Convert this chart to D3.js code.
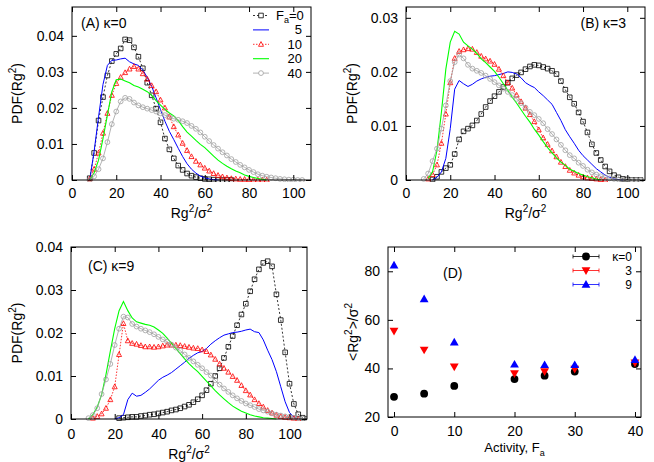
<!DOCTYPE html>
<html>
<head>
<meta charset="utf-8">
<script src="https://cdn.jsdelivr.net/npm/d3@7"></script>
<style>
  body { margin: 0; background: #fff; }
  svg { display: block; font-family: "Liberation Sans", Arial, Helvetica, sans-serif; }
</style>
</head>
<body>
<script>
// ---------------- DATA ----------------
// Common Rg^2/sigma^2 sample grid for the PDF panels
const rgGrid = [8,10,12,14,16,18,20,22,24,26,28,30,32,34,36,38,40,42,44,46,48,50,52,54,56,58,
  60,62,64,66,68,70,72,74,76,78,80,82,84,86,88,90,92,94,96,98,100,102,104,106,108];

const faLabels = ["0", "5", "10", "20", "40"];

// Panel A, kappa = 0
const pdfA_Fa0 = [0.0005,0.0075,0.0165,0.023,0.029,0.033,0.035,0.0365,0.039,0.0388,0.0368,0.0342,0.031,0.027,0.0235,0.0198,0.016,0.0115,0.0085,0.006,0.004,0.0028,0.0018,0.0012,0.0008,0.0005,0.0003,0.0002,0.0001,0,0,0,0];
const pdfA_Fa5 = [0,0.008,0.0175,0.0265,0.0318,0.0332,0.0333,0.0336,0.0338,0.0328,0.0322,0.0318,0.0305,0.0285,0.026,0.0228,0.0195,0.0163,0.0135,0.0112,0.0088,0.0065,0.0045,0.003,0.0019,0.0011,0.0006,0.0003,0.0001,0];
const pdfA_Fa10 = [0.0003,0.003,0.0075,0.013,0.0185,0.0235,0.0268,0.0285,0.0298,0.0308,0.0315,0.0308,0.0295,0.028,0.0262,0.0245,0.0222,0.02,0.0175,0.0148,0.0125,0.0102,0.0082,0.0065,0.0052,0.0042,0.0033,0.0025,0.0018,0.0013,0.0009,0.0006,0.0004,0.0003,0.0002,0.0002,0.0001,0,0,0,0];
const pdfA_Fa20 = [0,0.002,0.0055,0.0115,0.018,0.0245,0.0278,0.028,0.0275,0.027,0.0262,0.0258,0.0252,0.0245,0.0235,0.022,0.0208,0.0196,0.0186,0.0178,0.0165,0.0148,0.0133,0.0122,0.011,0.0099,0.009,0.0078,0.0066,0.0055,0.0046,0.0038,0.0031,0.0025,0.002,0.0014,0.001,0.0007,0.0004,0.0002,0];
const pdfA_Fa40 = [0,0.001,0.003,0.006,0.0105,0.0155,0.019,0.0218,0.0228,0.0225,0.0215,0.0207,0.0202,0.0198,0.0194,0.019,0.0185,0.018,0.0175,0.017,0.0167,0.0163,0.0158,0.015,0.0142,0.0132,0.012,0.0108,0.0097,0.0087,0.0077,0.0068,0.0058,0.005,0.0042,0.0035,0.0028,0.0022,0.0016,0.0012,0.0009,0.0007,0.0005,0.0003,0.0002,0.0001,0.0001,0,0];

// Panel B, kappa = 3
const pdfB_Fa0 = [null,null,0.0001,0.0006,0.0015,0.0022,0.0028,0.0048,0.0075,0.009,0.0095,0.0101,0.011,0.0122,0.0135,0.0146,0.0155,0.0163,0.0172,0.018,0.0188,0.0194,0.0199,0.0205,0.021,0.0213,0.0212,0.0209,0.0206,0.0202,0.0196,0.0183,0.0167,0.0153,0.0141,0.0125,0.0108,0.0088,0.0066,0.005,0.0037,0.0025,0.0016,0.0009,0.0005,0.0002,0.0001,0,0,0];
const pdfB_Fa5 = [null,null,0,0.0005,0.0015,0.004,0.0095,0.0168,0.0184,0.0178,0.0173,0.0177,0.0183,0.0187,0.019,0.0192,0.0193,0.0195,0.0197,0.02,0.0199,0.0196,0.0189,0.018,0.0175,0.0171,0.0163,0.0156,0.0148,0.014,0.0125,0.011,0.0093,0.008,0.0068,0.0055,0.0045,0.0037,0.0029,0.0021,0.0015,0.0009,0.0005,0.0002,0.0001,0];
const pdfB_Fa10 = [null,0.0002,0.001,0.0028,0.0068,0.0122,0.018,0.0225,0.0238,0.0241,0.0243,0.0242,0.0236,0.0229,0.0224,0.022,0.0214,0.0205,0.0193,0.018,0.017,0.0157,0.0145,0.0133,0.0121,0.0108,0.0093,0.0078,0.0066,0.0054,0.0043,0.0033,0.0025,0.0018,0.0013,0.0009,0.0006,0.0004,0.0003,0.0002,0.0001,0];
const pdfB_Fa20 = [null,0.0003,0.0015,0.0055,0.0125,0.0205,0.0255,0.0275,0.027,0.0255,0.0248,0.0242,0.0234,0.0224,0.0217,0.0209,0.0201,0.019,0.0178,0.0166,0.0153,0.0142,0.013,0.0118,0.0107,0.0094,0.0083,0.0071,0.006,0.005,0.0041,0.0033,0.0027,0.002,0.0016,0.0012,0.0009,0.0006,0.0004,0.0002,0];
const pdfB_Fa40 = [0.0002,0.0012,0.0035,0.0058,0.0095,0.0138,0.0183,0.0218,0.0232,0.0225,0.0213,0.0206,0.0202,0.0198,0.0193,0.0187,0.0181,0.0175,0.0169,0.0163,0.0157,0.015,0.0142,0.0134,0.0126,0.012,0.0113,0.0105,0.0094,0.0085,0.0075,0.0065,0.0055,0.0046,0.004,0.0032,0.0026,0.0019,0.0014,0.001,0.0007,0.0005,0.0003,0.0002,0.0001,0,0,0,0,0];

// Panel C, kappa = 9
const pdfC_Fa0 = [null,null,null,null,null,null,null,0.0002,0.0003,0.0004,0.0005,0.0005,0.0007,0.0008,0.001,0.0011,0.0013,0.0015,0.0017,0.002,0.0022,0.0025,0.0029,0.0033,0.0039,0.0046,0.0055,0.0067,0.0082,0.01,0.0118,0.0142,0.0168,0.0193,0.0218,0.0243,0.0268,0.0297,0.0325,0.0348,0.0363,0.0367,0.0355,0.029,0.023,0.0155,0.0082,0.0035,0.0011,0.0003,0];
const pdfC_Fa5 = [null,null,null,null,null,null,0,0.0003,0.001,0.0045,0.006,0.0053,0.0055,0.0062,0.007,0.008,0.009,0.0097,0.0102,0.0108,0.0116,0.0124,0.0132,0.0141,0.0148,0.0154,0.0157,0.0164,0.0174,0.0182,0.0189,0.0195,0.0198,0.0201,0.0202,0.0204,0.0207,0.0209,0.0203,0.0201,0.0184,0.016,0.0138,0.011,0.0075,0.004,0.0015,0.0004,0];
const pdfC_Fa10 = [null,0.0002,0.0006,0.0012,0.0025,0.0045,0.0075,0.015,0.0222,0.0182,0.0176,0.0174,0.0171,0.0168,0.0168,0.0167,0.0168,0.017,0.0172,0.0172,0.0172,0.0171,0.0169,0.0167,0.0165,0.0164,0.0161,0.0157,0.0149,0.0139,0.0128,0.0118,0.0109,0.0099,0.009,0.0078,0.0066,0.0056,0.0045,0.0036,0.0028,0.002,0.0014,0.0009,0.0006,0.0004,0.0003,0.0002,0];
const pdfC_Fa20 = [0,0.001,0.0028,0.0056,0.0103,0.0158,0.021,0.0252,0.0273,0.0252,0.0235,0.0226,0.0223,0.022,0.0218,0.0214,0.0207,0.0199,0.0188,0.0176,0.0164,0.0152,0.014,0.0129,0.0119,0.011,0.0099,0.0088,0.0077,0.0066,0.0056,0.0047,0.0038,0.003,0.0024,0.0018,0.0014,0.001,0.0007,0.0005,0.0003,0.0002,0.0001,0];
const pdfC_Fa40 = [0.0002,0.0009,0.0025,0.0058,0.0092,0.0128,0.0172,0.021,0.0238,0.0236,0.0221,0.0215,0.021,0.0206,0.0202,0.0197,0.0191,0.0185,0.018,0.0173,0.0166,0.0159,0.015,0.0142,0.0134,0.0126,0.0118,0.0109,0.0101,0.009,0.008,0.0071,0.0063,0.0055,0.0048,0.0042,0.0036,0.0032,0.0028,0.0023,0.002,0.0017,0.0013,0.001,0.0008,0.0006,0.0005,0.0003,0.0002,0.0001,0];

// Panel D: mean Rg^2 vs activity
const activity = [0, 5, 10, 20, 25, 30, 40];
const meanK0 = [28.3, 29.6, 32.8, 35.6, 37.0, 38.7, 41.8];
const meanK3 = [55.4, 47.6, 40.7, 37.9, 38.7, 39.7, 42.3];
const meanK9 = [82.5, 68.6, 50.8, 41.7, 41.5, 41.5, 43.6];
const kappaLabels = ["κ=0", "3", "9"];

// tick values
const xTicksPdf = [0, 20, 40, 60, 80, 100];
const yTicksA = [0, 0.01, 0.02, 0.03, 0.04];
const yTicksB = [0, 0.01, 0.02, 0.03];
const yTicksC = [0, 0.01, 0.02, 0.03, 0.04];
const xTicksD = [0, 10, 20, 30, 40];
const yTicksD = [20, 40, 60, 80];

// ---------------- DRAWING ----------------
const W = 654, H = 462;
const svg = d3.select("body").append("svg").attr("width", W).attr("height", H);
svg.append("rect").attr("width", W).attr("height", H).attr("fill", "#fff");

const FS = 14;      // tick / axis label size
const FSL = 12;     // legend text size
const FSS = 10;     // super/subscript size

const styles = [
  { color: "#000000", marker: "square", line: "2,2", lw: 0.8 },
  { color: "#0000ff", marker: null, line: null, lw: 1.0 },
  { color: "#ff0000", marker: "triangle", line: "1.5,1.5", lw: 0.8 },
  { color: "#00ff00", marker: null, line: null, lw: 1.1 },
  { color: "#a0a0a0", marker: "circle", line: null, lw: 0.8 }
];

function markerPath(type, cx, cy) {
  if (type === "square") {
    const s = 2.3;
    return `M${cx - s},${cy - s}h${2 * s}v${2 * s}h${-2 * s}Z`;
  }
  if (type === "triangle") {
    const s = 2.5;
    return `M${cx},${cy - s * 1.1}L${cx + s},${cy + s * 0.8}L${cx - s},${cy + s * 0.8}Z`;
  }
  return null;
}

function setupAxes(g, p, x, y, xticks, yticks, xfmt, yfmt) {
  const tl = 5;
  const bottom = g.append("g").attr("transform", `translate(0,${p.bottom})`)
    .call(d3.axisBottom(x).tickValues(xticks).tickSize(-tl).tickPadding(p.padX).tickFormat(xfmt));
  const top = g.append("g").attr("transform", `translate(0,${p.top})`)
    .call(d3.axisTop(x).tickValues(xticks).tickSize(-tl).tickFormat(""));
  const left = g.append("g").attr("transform", `translate(${p.left},0)`)
    .call(d3.axisLeft(y).tickValues(yticks).tickSize(-tl).tickPadding(8).tickFormat(yfmt));
  const right = g.append("g").attr("transform", `translate(${p.right},0)`)
    .call(d3.axisRight(y).tickValues(yticks).tickSize(-tl).tickFormat(""));
  [bottom, top, left, right].forEach(a => {
    a.select(".domain").remove();
    a.attr("font-family", null).attr("font-size", null);
    a.selectAll("text").attr("font-size", FS).attr("fill", "#000");
    a.selectAll("line").attr("stroke", "#000").attr("stroke-width", 1);
  });
  top.selectAll("text").remove();
  right.selectAll("text").remove();
  g.append("rect").attr("x", p.left).attr("y", p.top)
    .attr("width", p.right - p.left).attr("height", p.bottom - p.top)
    .attr("fill", "none").attr("stroke", "#000").attr("stroke-width", 1);
}

function supText(g, parts, attrs, size) {
  // parts: array of [text, 'n'|'sup'|'sub']
  const fs = size || FS;
  const t = g.append("text").attr("font-size", fs).attr("fill", "#000");
  Object.entries(attrs).forEach(([k, v]) => t.attr(k, v));
  let shift = 0;
  parts.forEach(([s, kind]) => {
    const target = kind === "sup" ? -6 : kind === "sub" ? 3.5 : 0;
    const ts = t.append("tspan").text(s).attr("dy", target - shift);
    if (kind !== "n") ts.attr("font-size", fs === FS ? FSS : 9);
    shift = target;
  });
  return t;
}

const rgLabel = [["Rg", "n"], ["2", "sup"], ["/σ", "n"], ["2", "sup"]];
const pdfLabel = [["PDF(Rg", "n"], ["2", "sup"], [")", "n"]];

const pdfPanels = [
  { left: 72, right: 311, top: 7, bottom: 180, ymax: 0.048, yticks: yTicksA, padX: 8,
    series: [pdfA_Fa0, pdfA_Fa5, pdfA_Fa10, pdfA_Fa20, pdfA_Fa40],
    tag: "(A) κ=0", tagX: 81, tagY: 28, tagAnchor: "start",
    ylabX: 22, xlabY: 218, legend: true },
  { left: 406, right: 645, top: 7, bottom: 180, ymax: 0.032, yticks: yTicksB, padX: 8,
    series: [pdfB_Fa0, pdfB_Fa5, pdfB_Fa10, pdfB_Fa20, pdfB_Fa40],
    tag: "(B) κ=3", tagX: 626, tagY: 28, tagAnchor: "end",
    ylabX: 357, xlabY: 218, legend: false },
  { left: 71, right: 307, top: 247, bottom: 419, ymax: 0.04, yticks: yTicksC, padX: 10,
    series: [pdfC_Fa0, pdfC_Fa5, pdfC_Fa10, pdfC_Fa20, pdfC_Fa40],
    tag: "(C) κ=9", tagX: 88, tagY: 271, tagAnchor: "start",
    ylabX: 22, xlabY: 459, legend: false }
];

const yfmtPdf = d => d === 0 ? "0" : d3.format(".2f")(d);

pdfPanels.forEach(p => {
  const g = svg.append("g");
  const x = d3.scaleLinear().domain([0, 108]).range([p.left, p.right]);
  const y = d3.scaleLinear().domain([0, p.ymax]).range([p.bottom, p.top]);

  const clipId = "clip" + p.left + "_" + p.top;
  svg.append("clipPath").attr("id", clipId).append("rect")
    .attr("x", p.left).attr("y", p.top - 2).attr("width", p.right - p.left).attr("height", p.bottom - p.top + 4);
  const plot = g.append("g").attr("clip-path", `url(#${clipId})`);

  p.series.forEach((vals, si) => {
    const st = styles[si];
    const pts = [];
    vals.forEach((v, i) => { if (v !== null && v !== undefined) pts.push([rgGrid[i], v]); });
    const line = d3.line().x(d => x(d[0])).y(d => y(d[1]));
    plot.append("path").attr("d", line(pts)).attr("fill", "none")
      .attr("stroke", st.color).attr("stroke-width", st.lw)
      .attr("stroke-dasharray", st.line);
    if (st.marker === "circle") {
      plot.selectAll(null).data(pts).enter().append("circle")
        .attr("cx", d => x(d[0])).attr("cy", d => y(d[1])).attr("r", 2.4)
        .attr("fill", "none").attr("stroke", st.color).attr("stroke-width", 0.8);
    } else if (st.marker) {
      plot.selectAll(null).data(pts).enter().append("path")
        .attr("d", d => markerPath(st.marker, x(d[0]), y(d[1])))
        .attr("fill", "none").attr("stroke", st.color).attr("stroke-width", 0.8);
    }
  });

  setupAxes(g, p, x, y, xTicksPdf, p.yticks, d3.format("d"), yfmtPdf);

  supText(g, rgLabel, { x: (p.left + p.right) / 2, y: p.xlabY, "text-anchor": "middle" });
  supText(g, pdfLabel, { transform: `translate(${p.ylabX},${(p.top + p.bottom) / 2}) rotate(-90)`, "text-anchor": "middle" });

  g.append("text").attr("x", p.tagX).attr("y", p.tagY).attr("text-anchor", p.tagAnchor)
    .attr("font-size", FS).text(p.tag);

  if (p.legend) {
    const lx0 = 253, lx1 = 269, tx = 302;
    faLabels.forEach((lab, i) => {
      const st = styles[i];
      const ly = 15.5 + i * 14.4;
      g.append("line").attr("x1", lx0).attr("x2", lx1).attr("y1", ly).attr("y2", ly)
        .attr("stroke", st.color).attr("stroke-width", st.lw).attr("stroke-dasharray", st.line);
      const mx = (lx0 + lx1) / 2;
      if (st.marker === "circle") {
        g.append("circle").attr("cx", mx).attr("cy", ly).attr("r", 2.4)
          .attr("fill", "#fff").attr("stroke", st.color).attr("stroke-width", 0.8);
      } else if (st.marker) {
        g.append("path").attr("d", markerPath(st.marker, mx, ly))
          .attr("fill", "#fff").attr("stroke", st.color).attr("stroke-width", 0.8);
      }
      if (i === 0) {
        supText(g, [["F", "n"], ["a", "sub"], ["=0", "n"]], { x: 276, y: ly + 4, "text-anchor": "start" }, 13);
      } else {
        g.append("text").attr("x", tx).attr("y", ly + 4.5).attr("text-anchor", "end")
          .attr("font-size", 13).text(lab);
      }
    });
  }
});

// ---------------- Panel D ----------------
{
  const p = { left: 388, right: 641, top: 247, bottom: 417, padX: 9 };
  const g = svg.append("g");
  const x = d3.scaleLinear().domain([-1, 41]).range([p.left, p.right]);
  const y = d3.scaleLinear().domain([20, 90]).range([p.bottom, p.top]);

  setupAxes(g, p, x, y, xTicksD, yTicksD, d3.format("d"), d3.format("d"));

  const seriesD = [
    { vals: meanK0, color: "#000000", shape: "circle" },
    { vals: meanK3, color: "#ff0000", shape: "down" },
    { vals: meanK9, color: "#0000ff", shape: "up" }
  ];
  function shapePath(shape, cx, cy) {
    const s = 4.4;
    if (shape === "up") return `M${cx},${cy - s}L${cx + s},${cy + s * 0.75}L${cx - s},${cy + s * 0.75}Z`;
    return `M${cx},${cy + s}L${cx + s},${cy - s * 0.75}L${cx - s},${cy - s * 0.75}Z`;
  }
  function drawShape(sel, shape, color, cx, cy) {
    if (shape === "circle") {
      sel.append("circle").attr("cx", cx).attr("cy", cy).attr("r", 3.9).attr("fill", color);
    } else {
      sel.append("path").attr("d", shapePath(shape, cx, cy)).attr("fill", color);
    }
  }
  seriesD.forEach(s => {
    s.vals.forEach((v, i) => drawShape(g, s.shape, s.color, x(activity[i]), y(v)));
  });

  // legend
  const lx0 = 573, lx1 = 599, tx = 632;
  seriesD.forEach((s, i) => {
    const ly = 256.5 + i * 14;
    g.append("line").attr("x1", lx0).attr("x2", lx1).attr("y1", ly).attr("y2", ly)
      .attr("stroke", s.color).attr("stroke-width", 0.8);
    [lx0, lx1].forEach(ex => g.append("line").attr("x1", ex).attr("x2", ex)
      .attr("y1", ly - 2).attr("y2", ly + 2).attr("stroke", s.color).attr("stroke-width", 0.8));
    drawShape(g, s.shape, s.color, (lx0 + lx1) / 2, ly);
    g.append("text").attr("x", tx).attr("y", ly + 4.5).attr("text-anchor", "end")
      .attr("font-size", FSL).text(kappaLabels[i]);
  });

  g.append("text").attr("x", 443).attr("y", 278).attr("font-size", FS).text("(D)");

  supText(g, [["Activity, F", "n"], ["a", "sub"]], { x: (p.left + p.right) / 2, y: 452, "text-anchor": "middle" }, 13);
  supText(g, [["<Rg", "n"], ["2", "sup"], [">/σ", "n"], ["2", "sup"]],
    { transform: `translate(358,${(p.top + p.bottom) / 2}) rotate(-90)`, "text-anchor": "middle" });
}
</script>
</body>
</html>
